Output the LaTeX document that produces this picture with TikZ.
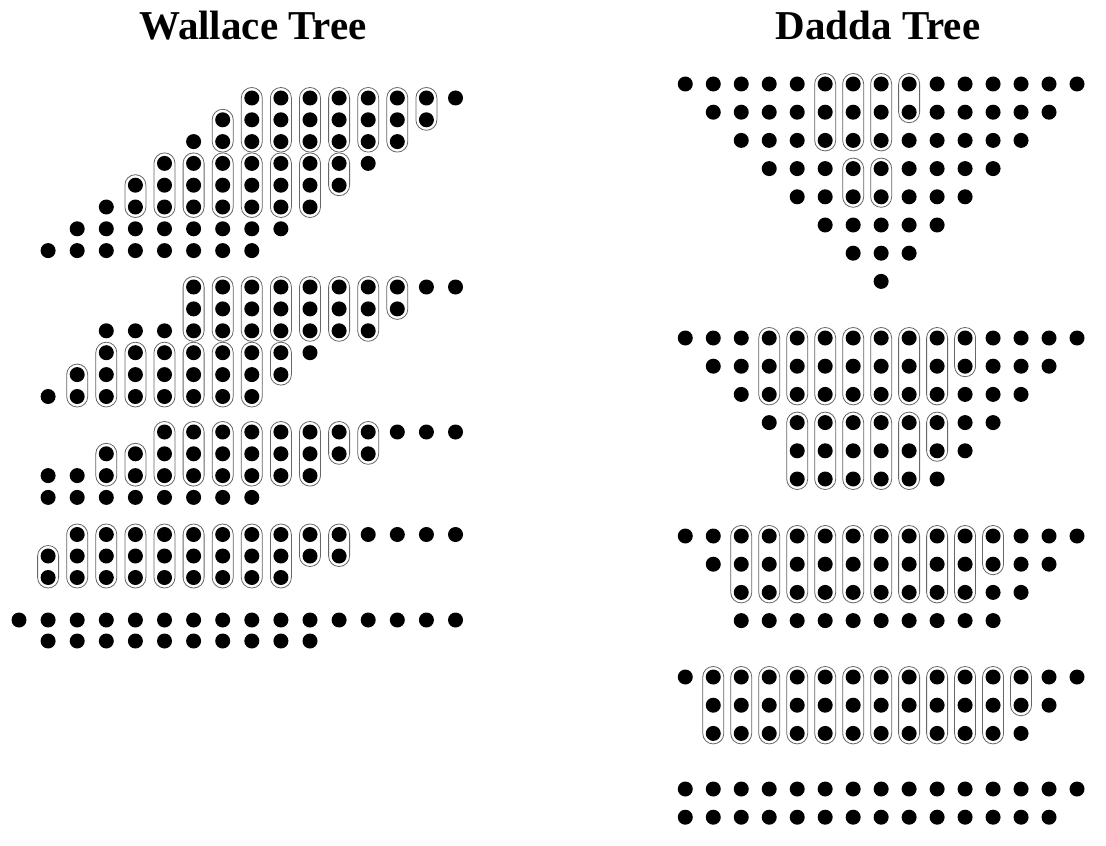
\documentclass[tikz,border=0pt]{standalone}
\usepackage{fontspec}
\setmainfont{Liberation Serif}
\usepackage{tikz}
\usetikzlibrary{positioning}

% one row of bits: x of column 0, column pitch, y, first column, last column
\newcommand{\bitrow}[5]{%
  \foreach \c in {#4,...,#5}{\fill[bit] ({#1-#2*\c},#3) circle (3.75pt);}}
% one adder group round a column: x of column 0, pitch, column, top y, bottom y
\newcommand{\bitgrp}[5]{%
  \draw[grp] ({#1-#2*#3-10.5},{#4-10.5}) rectangle ({#1-#2*#3+10.5},{#5+10.5});}
\newcommand{\wrow}[3]{\bitrow{455.5}{29.1}{#1}{#2}{#3}}
\newcommand{\wgrp}[3]{\foreach \g in {#1}{\bitgrp{455.5}{29.1}{\g}{#2}{#3}}}
\newcommand{\drow}[3]{\bitrow{1077}{27.98}{#1}{#2}{#3}}
\newcommand{\dgrp}[3]{\foreach \g in {#1}{\bitgrp{1077}{27.98}{\g}{#2}{#3}}}

\begin{document}
\begin{tikzpicture}[x=0.5pt, y=-0.5pt,
    bit/.style={fill=black},
    grp/.style={draw=black!60, line width=0.4pt, rounded corners=5.2pt},
    title/.style={font=\fontsize{20.5}{24}\selectfont\bfseries, anchor=base, inner sep=0pt}]
  \useasboundingbox (0,0) rectangle (1106,845);

  \node[title] (wallace) at (253,40) {Wallace Tree};
  \node[title] (dadda) at (878,40) {Dadda Tree};

  % Wallace, stage 1
  \wgrp{1}{98}{119.8}
  \wgrp{2,...,7}{98}{141.6}
  \wgrp{8}{119.8}{141.6}
  \wgrp{4}{163.4}{185.2}
  \wgrp{5,...,10}{163.4}{207}
  \wgrp{11}{185.2}{207}
  \foreach \k/\y in {0/98,1/119.8,2/141.6,3/163.4,4/185.2,5/207,6/228.8,7/250.6}{
    \pgfmathtruncatemacro{\last}{\k+7}
    \wrow{\y}{\k}{\last}}

  % Wallace, stage 2
  \wgrp{2}{287}{308.9}
  \wgrp{3,...,9}{287}{330.8}
  \wgrp{6}{352.7}{374.6}
  \wgrp{7,...,12}{352.7}{396.5}
  \wgrp{13}{374.6}{396.5}
  \wrow{287}{0}{9}
  \wrow{308.9}{2}{9}
  \wrow{330.8}{3}{12}
  \wrow{352.7}{5}{12}
  \wrow{374.6}{6}{13}
  \wrow{396.5}{7}{14}

  % Wallace, stage 3
  \wgrp{3,4}{432}{453.8}
  \wgrp{5,...,10}{432}{475.6}
  \wgrp{11,12}{453.8}{475.6}
  \wrow{432}{0}{10}
  \wrow{453.8}{3}{12}
  \wrow{475.6}{5}{14}
  \wrow{497.4}{7}{14}

  % Wallace, stage 4
  \wgrp{4,5}{534.5}{556}
  \wgrp{6,...,13}{534.5}{577.5}
  \wgrp{14}{556}{577.5}
  \wrow{534.5}{0}{13}
  \wrow{556}{4}{14}
  \wrow{577.5}{6}{14}

  % Wallace, result
  \wrow{620}{0}{15}
  \wrow{641}{5}{14}

  % Dadda, stage 1
  \dgrp{7,8,9}{84}{140.4}
  \dgrp{6}{84}{112.2}
  \dgrp{7,8}{168.6}{196.8}
  \foreach \k/\y in {0/84,1/112.2,2/140.4,3/168.6,4/196.8,5/225,6/253.2,7/281.4}{
    \pgfmathtruncatemacro{\last}{14-\k}
    \drow{\y}{\k}{\last}}

  % Dadda, stage 2
  \dgrp{5,...,11}{338}{394.4}
  \dgrp{4}{338}{366.2}
  \dgrp{6,...,10}{422.6}{479}
  \dgrp{5}{422.6}{450.8}
  \drow{338}{0}{14}
  \drow{366.2}{1}{13}
  \drow{394.4}{2}{12}
  \drow{422.6}{3}{11}
  \drow{450.8}{4}{10}
  \drow{479}{5}{10}

  % Dadda, stage 3
  \dgrp{4,...,12}{536}{592.4}
  \dgrp{3}{536}{564.2}
  \drow{536}{0}{14}
  \drow{564.2}{1}{13}
  \drow{592.4}{2}{12}
  \drow{620.6}{3}{12}

  % Dadda, stage 4
  \dgrp{3,...,13}{677}{733.4}
  \dgrp{2}{677}{705.2}
  \drow{677}{0}{14}
  \drow{705.2}{1}{13}
  \drow{733.4}{2}{13}

  % Dadda, result
  \drow{789}{0}{14}
  \drow{817.2}{1}{14}
\end{tikzpicture}
\end{document}
